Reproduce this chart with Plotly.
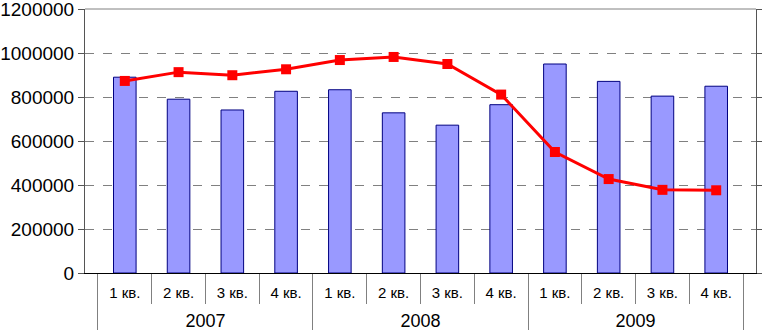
import plotly.graph_objects as go

years = ["2007"] * 4 + ["2008"] * 4 + ["2009"] * 4
quarters = ["1 кв.", "2 кв.", "3 кв.", "4 кв."] * 3
bar_values = [890000, 790000, 741000, 826000, 833000, 728000, 672000, 765000,
              950000, 871000, 804000, 849000]
line_values = [873000, 913000, 899000, 926000, 968000, 982000, 950000, 811000,
               550000, 427000, 378000, 376000]
y_ticks = [0, 200000, 400000, 600000, 800000, 1000000, 1200000]

font_family = "Liberation Sans, Arial, sans-serif"

# display labels for the two category levels
year_labels = ["<br><span style='font-size:18px'>" + y + "</span>" for y in years]
quarter_labels = ["<span style='font-size:15px'>" + q + "</span>" for q in quarters]
x_cats = [year_labels, quarter_labels]

fig = go.Figure()
fig.add_trace(go.Bar(
    x=x_cats, y=bar_values,
    marker=dict(color="#9999FF", line=dict(color="#000080", width=1)),
    width=0.42, showlegend=False,
))
fig.add_trace(go.Scatter(
    x=x_cats, y=line_values, mode="lines+markers",
    line=dict(color="#FF0000", width=3),
    marker=dict(symbol="square", size=10, color="#FF0000"),
    showlegend=False,
))

fig.update_layout(
    width=762, height=330,
    margin=dict(l=85, r=6, t=9, b=57, autoexpand=False),
    paper_bgcolor="white", plot_bgcolor="white",
    font=dict(family=font_family, color="#000000"),
)
fig.update_yaxes(
    range=[0, 1200000], tickvals=y_ticks, ticktext=[str(v) for v in y_ticks],
    showgrid=True, gridcolor="#808080", griddash="dash", gridwidth=1,
    showline=True, linecolor="#555555", linewidth=1, mirror="ticks",
    ticks="outside", ticklen=6, tickcolor="#555555",
    tickfont=dict(size=19, family=font_family), zeroline=False,
    ticklabeloverflow="allow",
    automargin=False,
)
fig.update_xaxes(
    type="multicategory",
    showline=True, linecolor="#000000", linewidth=1,
    ticks="outside", tickson="boundaries", ticklen=30, tickcolor="#808080",
    showdividers=True, dividercolor="#808080", dividerwidth=1,
    tickfont=dict(size=13.5, family=font_family),
    ticklabelstandoff=8,
    showgrid=False, automargin=False,
)
fig.add_shape(type="line", xref="paper", yref="paper", x0=0, x1=1, y0=1, y1=1,
              line=dict(color="#808080", width=1))

fig.write_html("out.html", config={"displayModeBar": False},
               post_script="document.body.style.margin='0';")
